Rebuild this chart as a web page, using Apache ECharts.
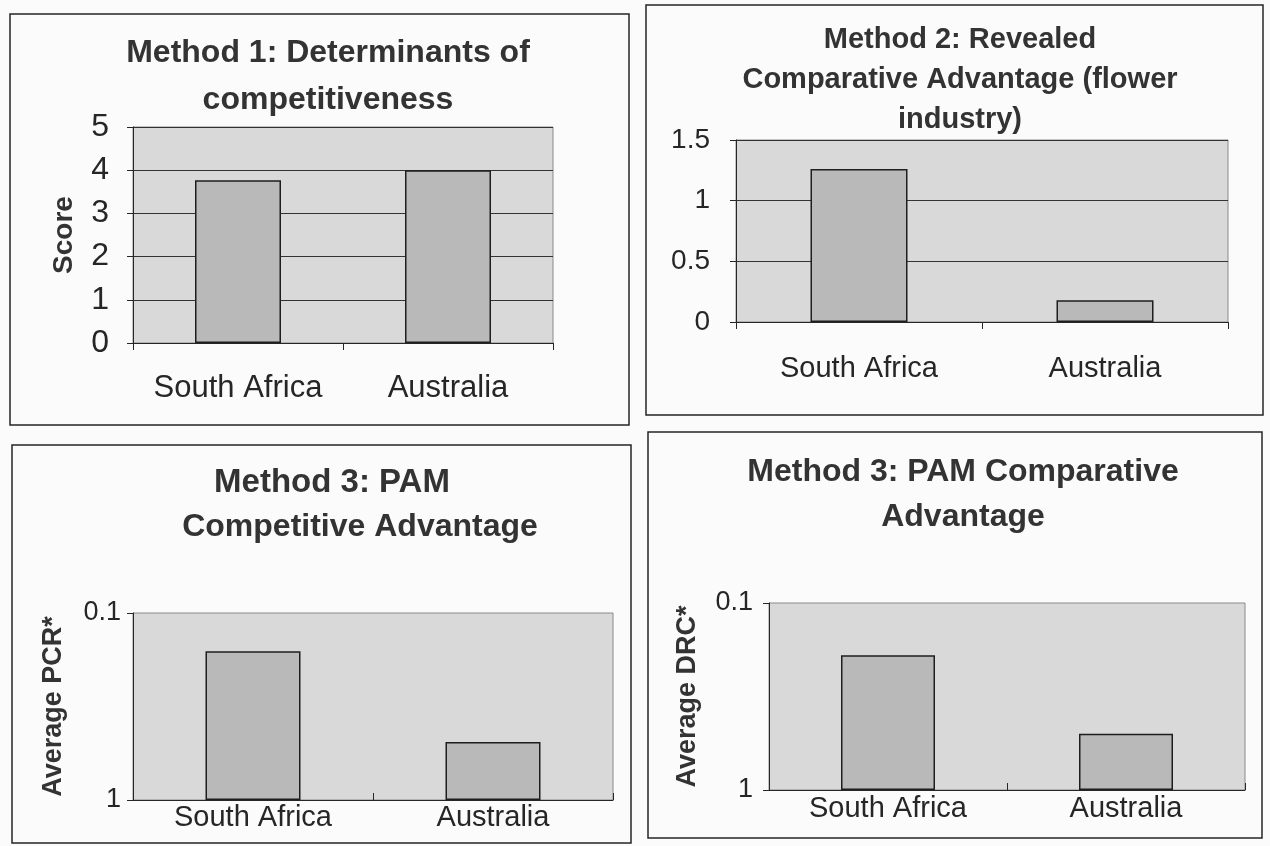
<!DOCTYPE html>
<html>
<head>
<meta charset="utf-8">
<script src="https://cdn.jsdelivr.net/npm/echarts@6/dist/echarts.min.js"></script>
<style>
  html, body { margin: 0; padding: 0; background: #fbfbfb; }
  #chart { width: 1270px; height: 846px; }
</style>
</head>
<body>
<div id="chart"></div>
<script>
// data
const countries = ['South Africa', 'Australia'];
const scores = [3.77, 4.0];          // Method 1: determinants of competitiveness
const rcaValues = [1.26, 0.18];      // Method 2: revealed comparative advantage
const pcrValues = [0.16, 0.49];      // Method 3: PAM competitive advantage (log, reversed)
const drcValues = [0.19, 0.5];       // Method 3: PAM comparative advantage (log, reversed)

const font = 'Liberation Sans, Arial, sans-serif';
const ink = '#262626';
const plotFill = '#d9d9d9';
const barFill = '#b9b9b9';

let myChart = echarts.init(document.getElementById('chart'));

function titleText(text, x, y, size, lh) {
    return {
        text: text, left: x, top: y, textAlign: 'center', padding: 0,
        textStyle: { fontFamily: font, fontWeight: 'bold', fontSize: size, lineHeight: lh, color: '#333' }
    };
}

function catAxis(idx, labelSize, margin, tickInside) {
    return {
        type: 'category', gridIndex: idx, data: countries, position: 'bottom',
        axisLine: { onZero: false, lineStyle: { color: ink, width: 1 } },
        axisTick: { show: true, alignWithLabel: false, inside: tickInside, length: 7, lineStyle: { color: ink } },
        axisLabel: { interval: 0, fontFamily: font, fontSize: labelSize, color: ink, margin: margin }
    };
}

function barSeries(idx, values, width) {
    return {
        type: 'bar', xAxisIndex: idx, yAxisIndex: idx, data: values, barWidth: width,
        itemStyle: { color: barFill, borderColor: '#1e1e1e', borderWidth: 1.5 }
    };
}

var option = {
    backgroundColor: '#fbfbfb',
    animation: false,
    title: [
        titleText('Method 1: Determinants of\ncompetitiveness', 328, 30, 32, 47),
        titleText('Method 2: Revealed\nComparative Advantage (flower\nindustry)', 960, 20, 29, 40),
        titleText('Method 3: PAM', 332, 465, 33, 36),
        titleText('Competitive Advantage', 360, 510, 32, 34),
        titleText('Method 3: PAM Comparative\nAdvantage', 963, 450, 32, 45)
    ],
    graphic: [
        { type: 'rect', shape: { x: 10, y: 14, width: 619, height: 411 }, style: { fill: 'none', stroke: ink, lineWidth: 1.5 } },
        { type: 'rect', shape: { x: 646, y: 5, width: 617, height: 410 }, style: { fill: 'none', stroke: ink, lineWidth: 1.5 } },
        { type: 'rect', shape: { x: 12, y: 445, width: 619, height: 398 }, style: { fill: 'none', stroke: ink, lineWidth: 1.5 } },
        { type: 'rect', shape: { x: 648, y: 432, width: 614, height: 406 }, style: { fill: 'none', stroke: ink, lineWidth: 1.5 } }
    ],
    grid: [
        { left: 133, top: 127, width: 420, height: 216 },
        { left: 736, top: 140, width: 492, height: 182 },
        { left: 133, top: 613, width: 480, height: 187 },
        { left: 769, top: 603, width: 476, height: 187 }
    ].map(g => Object.assign(g, { show: true, backgroundColor: plotFill, borderColor: '#8a8a8a', borderWidth: 1 })),
    xAxis: [
        catAxis(0, 31, 30, false),
        catAxis(1, 29, 32, false),
        catAxis(2, 29, 3, true),
        catAxis(3, 29, 4, true)
    ],
    yAxis: [
        {
            type: 'value', gridIndex: 0, min: 0, max: 5, interval: 1,
            name: 'Score', nameLocation: 'middle', nameGap: 55,
            nameTextStyle: { fontFamily: font, fontWeight: 'bold', fontSize: 28, color: '#333' },
            axisLine: { show: true, lineStyle: { color: ink } },
            axisTick: { show: true, length: 6, lineStyle: { color: ink } },
            axisLabel: { fontFamily: font, fontSize: 32, color: ink, margin: 24 },
            splitLine: { lineStyle: { color: '#333', width: 1 } }
        },
        {
            type: 'value', gridIndex: 1, min: 0, max: 1.5, interval: 0.5,
            axisLine: { show: true, lineStyle: { color: ink } },
            axisTick: { show: true, length: 6, lineStyle: { color: ink } },
            axisLabel: { fontFamily: font, fontSize: 28, color: ink, margin: 26 },
            splitLine: { lineStyle: { color: '#333', width: 1 } }
        },
        {
            type: 'log', logBase: 10, gridIndex: 2, min: 0.1, max: 1, inverse: true,
            name: 'Average PCR*', nameLocation: 'middle', nameGap: 66,
            nameTextStyle: { fontFamily: font, fontWeight: 'bold', fontSize: 27, color: '#333' },
            axisLine: { show: true, lineStyle: { color: ink } },
            axisTick: { show: true, length: 6, lineStyle: { color: ink } },
            axisLabel: { fontFamily: font, fontSize: 27, color: ink, margin: 12 },
            splitLine: { show: false }
        },
        {
            type: 'log', logBase: 10, gridIndex: 3, min: 0.1, max: 1, inverse: true,
            name: 'Average DRC*', nameLocation: 'middle', nameGap: 68,
            nameTextStyle: { fontFamily: font, fontWeight: 'bold', fontSize: 27, color: '#333' },
            axisLine: { show: true, lineStyle: { color: ink } },
            axisTick: { show: true, length: 6, lineStyle: { color: ink } },
            axisLabel: { fontFamily: font, fontSize: 27, color: ink, margin: 16 },
            splitLine: { show: false }
        }
    ],
    series: [
        barSeries(0, scores, 86),
        barSeries(1, rcaValues, 97),
        barSeries(2, pcrValues, 95),
        barSeries(3, drcValues, 94)
    ]
};

myChart.setOption(option);

window.addEventListener('resize', () => {
    myChart.resize();
});
</script>
</body>
</html>
